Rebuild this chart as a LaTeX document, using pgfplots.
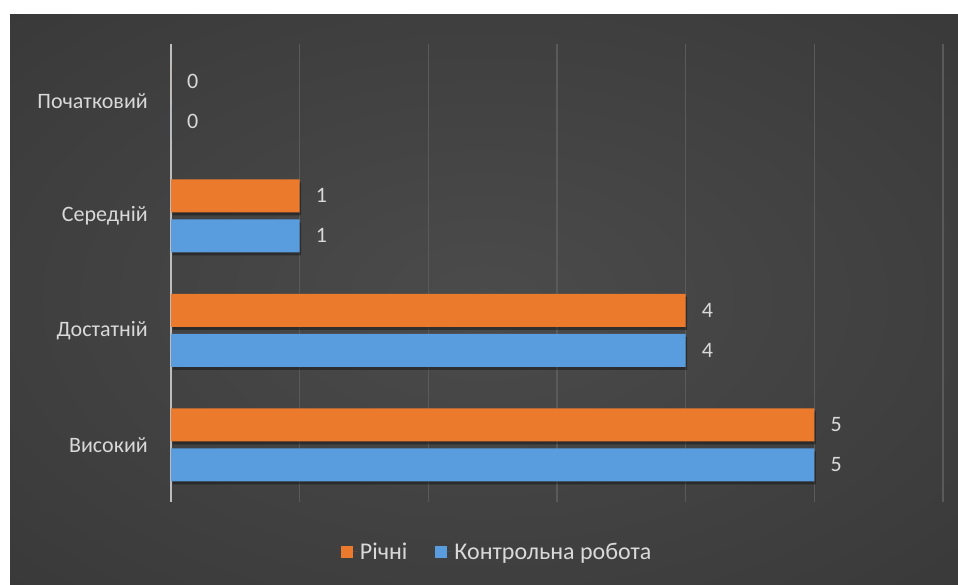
\documentclass[border=0pt]{standalone}
\usepackage{fontspec}
\setmainfont{Carlito}
\usepackage{pgfplots}
\pgfplotsset{compat=1.18}
\definecolor{bgin}{HTML}{4B4B4B}
\definecolor{bgout}{HTML}{262626}
\definecolor{gridc}{HTML}{5A5A5A}
\definecolor{axc}{HTML}{BDBDBD}
\definecolor{labc}{HTML}{D9D9D9}
\definecolor{orC}{HTML}{EC7A2C}
\definecolor{blC}{HTML}{5A9DDF}
\pgfdeclareradialshading{bgshade}{\pgfpoint{0bp}{0bp}}{color(0bp)=(bgin); color(30bp)=(bgin!60!bgout); color(70bp)=(bgout)}
\begin{document}
\begin{tikzpicture}
\path[use as bounding box] (0,0) rectangle (958pt,584pt);
\fill[white] (0,0) rectangle (958pt,584pt);
\shade[shading=bgshade] (10pt,0) rectangle (958pt,569pt);
\begin{axis}[
  at={(171pt,82pt)}, anchor=south west,
  scale only axis, width=772pt, height=458pt,
  xmin=0, xmax=6, ymin=-0.5, ymax=3.5,
  xbar, bar width=33pt,
  ytick={0,1,2,3},
  yticklabels={Високий,Достатній,Середній,Початковий},
  xtick={1,2,3,4,5,6}, xticklabels={},
  xmajorgrids, grid style={color=gridc, line width=1.2pt},
  extra x ticks={0}, extra x tick labels={},
  extra x tick style={grid style={color=axc, line width=1.6pt}},
  axis line style={draw=none},
  major tick length=0pt, tick style={draw=none},
  /pgf/number format/assume math mode=true,
  yticklabel style={font=\fontsize{22}{22}\selectfont, text=labc, inner sep=0pt, xshift=-23pt},
  nodes near coords,
  nodes near coords style={font=\fontsize{22}{22}\selectfont, text=labc, inner sep=0pt, anchor=west, xshift=16pt},
  legend style={at={(0.4225,-0.109)}, anchor=center, draw=none, fill=none,
    font=\fontsize{24}{24}\selectfont, text=labc,
    /tikz/every even column/.append style={column sep=26pt},
    nodes={inner sep=2pt}},
  legend columns=2,
  legend image code/.code={\path (0pt,0pt) -- (17pt,0pt); \fill[#1] (0pt,-6pt) rectangle (12pt,6pt);},
]
\addplot[forget plot, draw=none, fill=orC, bar shift=20pt,
  preaction={fill=black, fill opacity=0.35, transform canvas={xshift=1.5pt, yshift=-3pt}}]
  coordinates {(5,0) (4,1) (1,2) (0,3)};
\addplot[forget plot, draw=none, fill=blC, bar shift=-20pt,
  preaction={fill=black, fill opacity=0.35, transform canvas={xshift=1.5pt, yshift=-3pt}}]
  coordinates {(5,0) (4,1) (1,2) (0,3)};
\addlegendimage{draw=none, fill=orC}
\addlegendentry{Річні}
\addlegendimage{draw=none, fill=blC}
\addlegendentry{Контрольна робота}
\end{axis}
\end{tikzpicture}
\end{document}
